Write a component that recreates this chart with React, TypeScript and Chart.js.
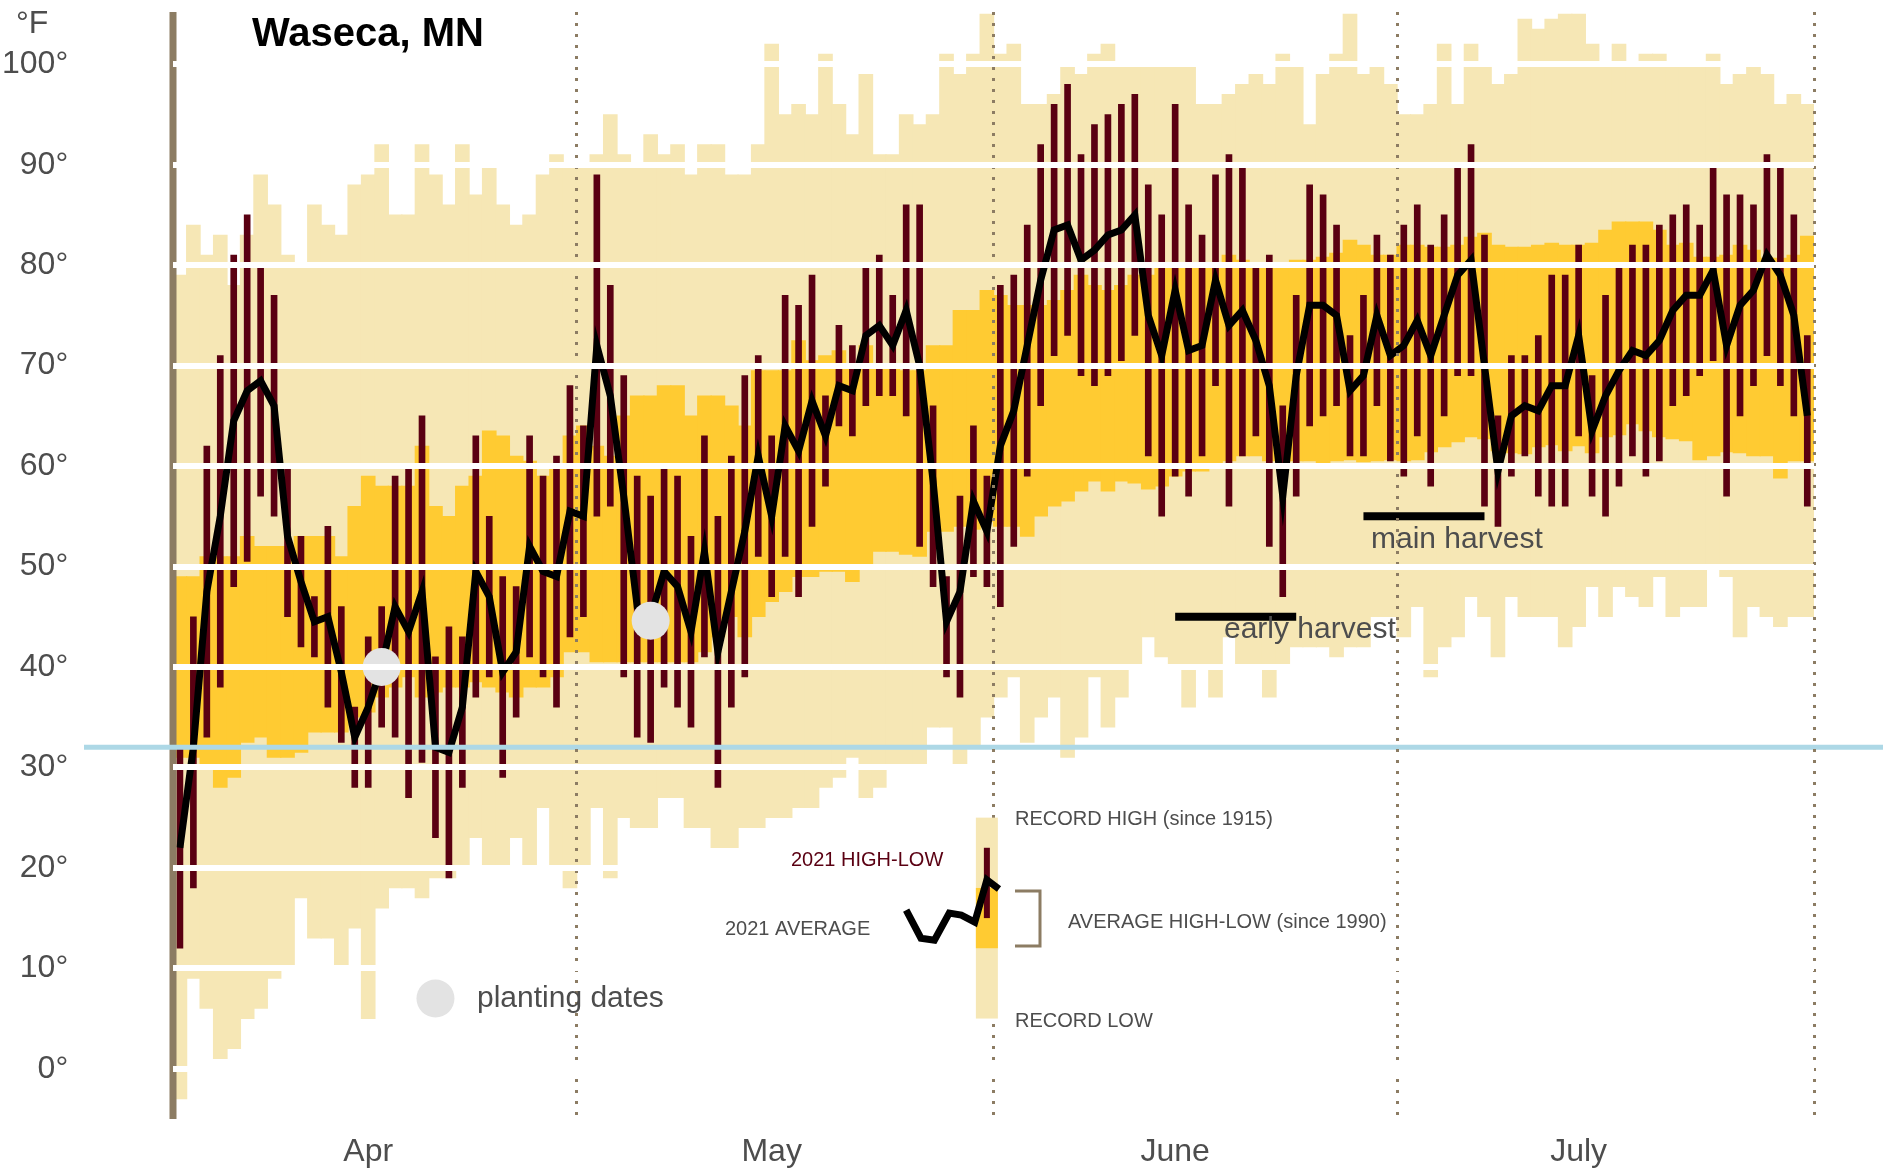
import React, { useEffect, useRef } from 'react';
import { Chart, registerables } from 'chart.js';

Chart.register(...registerables);

const W = 1883;
const H = 1171;
const FONT = '"Liberation Sans", Arial, Helvetica, sans-serif';
const TAN = '#F6E7B5';
const GOLD = '#FFCB32';
const MAROON = '#5A0012';
const BROWN = '#8C7C63';
const BLUE = '#ADD8E6';
const TEXT = '#4d4d4d';
const DOT = '#E3E3E3';

// Days counted from April 1 (index 0) to July 31 (index 121)
// 2021 daily average (black line)
const avg2021 = [
  // April
  22, 32, 47.5, 55, 64.5, 67.5, 68.5, 66, 53, 48.5, 44.5, 45, 39.5, 33, 36, 40, 46, 43.5, 47.5, 32,
  31.5, 36, 49.5, 47, 39.5, 41.5, 52, 49.5, 49, 55.5,
  // May
  55, 72, 67, 57, 46, 45, 49.5, 48, 43.5, 51.5, 41.5, 47.5, 53.5, 61, 55, 64, 61.5, 66.5, 63, 68,
  67.5, 73, 74, 72, 75.5, 70, 58.5, 44.5, 47.5, 56.5, 53.5,
  // June
  62, 65.5, 72, 78.5, 83.5, 84, 80.5, 81.5, 83, 83.5, 85, 75, 71, 77.5, 71.5, 72, 78.5, 74, 75.5, 72.5,
  68, 57, 69, 76, 76, 75, 67.5, 69, 75, 71,
  // July
  72, 74.5, 71, 75, 79, 80.5, 70, 59.5, 65, 66, 65.5, 68, 68, 73, 63.5, 67, 69.5, 71.5, 71, 72.5,
  75.5, 77, 77, 79.5, 72, 76, 77.5, 81, 79, 75, 65,
];

// 2021 daily high
const high2021 = [
  32, 45, 62, 71, 81, 85, 80, 77, 60, 53, 47, 54, 46, 36, 43, 46, 59, 60, 65, 41,
  44, 43, 63, 55, 49, 48, 63, 59, 61, 68,
  64, 89, 78, 69, 59, 57, 60, 59, 53, 63, 55, 61, 69, 71, 63, 77, 76, 79, 67, 74,
  72, 80, 81, 77, 86, 86, 66, 49, 57, 64, 59,
  78, 79, 84, 92, 96, 98, 91, 94, 95, 96, 97, 88, 85, 96, 86, 83, 89, 91, 90, 80,
  81, 66, 77, 88, 87, 84, 73, 77, 83, 81,
  84, 86, 82, 85, 90, 92, 83, 65, 71, 71, 73, 79, 79, 82, 69, 77, 80, 82, 82, 84,
  85, 86, 84, 90, 87, 87, 86, 91, 90, 85, 73,
];

// 2021 daily low
const low2021 = [
  12, 18, 33, 38, 48, 50.5, 57, 55, 45, 42, 41, 36, 32.5, 28, 28, 34, 33, 27, 30.5, 23,
  19, 28, 37, 39, 29, 35, 41, 39, 36, 43,
  45, 55, 56, 39, 33, 32.5, 38, 36, 34, 41, 28, 36, 39, 51, 47, 51, 47, 54, 58, 64,
  63, 66, 67, 67, 65, 52, 48, 39, 37, 49, 48,
  46, 52, 59, 66, 71, 73, 69, 68, 69, 70.5, 73, 61, 55, 59, 57, 61, 68, 56, 61, 63,
  52, 47, 57, 64, 65, 66, 61, 61, 66, 60.5,
  59, 63, 58, 65, 69, 69, 56, 54, 59, 61, 57, 56, 56, 63, 57, 55, 58, 61, 59, 60.5,
  66, 67, 69, 70.5, 57, 65, 68, 71, 68, 65, 56,
];

// Record high (since 1915)
const recordHigh = [
  79, 84, 81, 83, 78, 83, 89, 86, 81, 80, 86, 84, 83, 88, 89, 92, 85, 85, 92, 89,
  86, 92, 87, 90, 86, 84, 85, 89, 91, 90,
  90, 91, 95, 91, 90, 93, 91, 92, 89, 92, 92, 89, 89, 92, 102, 95, 96, 95, 101, 96,
  93, 99, 91, 91, 95, 94, 95, 101, 99, 101, 105,
  101, 102, 96, 96, 97, 100, 99, 101, 102, 100, 100, 100, 100, 100, 100, 96, 96, 97, 98, 99,
  98, 101, 100, 94, 99, 101, 105, 99, 100, 98,
  95, 95, 96, 102, 96, 102, 100, 98, 99, 104.5, 103.5, 104.5, 105, 105, 102, 100, 102, 100, 101, 101,
  100, 100, 100, 101, 98, 99, 100, 99, 96, 97, 96,
];

// Record low
const recordLow = [
  -3, 9, 6, 1, 2, 5, 6, 9, 10, 17, 13, 13, 10, 14, 5, 16, 18, 18, 17, 19,
  19, 20, 23, 20, 20, 23, 20, 26, 20, 18,
  20, 26, 19, 25, 24, 24, 27, 27, 24, 24, 22, 22, 24, 24, 25, 25, 26, 26, 28, 29,
  31, 27, 28, 30, 30, 30, 34, 34, 30, 32, 35,
  37, 39, 32.5, 35, 37, 31, 33, 39, 34, 37, 40, 43, 41, 40, 36, 40, 37, 43, 40, 40,
  37, 40, 42, 42, 42, 41, 42, 42, 45, 45,
  43, 46, 39, 42, 43, 47, 45, 41, 47, 45, 45, 45, 42, 44, 48, 45, 48, 47, 46, 49,
  45, 46, 46, 50, 49, 43, 46, 45, 44, 45, 45,
];

// Average high (since 1990)
const avgHigh = [
  49, 49, 51, 51, 51, 53, 52, 52, 52, 53, 53, 53, 51, 56, 59, 58, 58, 58, 62, 56,
  55, 58, 59, 63.5, 63, 61, 60.5, 59, 60, 63,
  64, 62, 61, 65, 67, 67, 68, 68, 65, 67, 67, 66, 64, 69.5, 69.5, 69.5, 72.5, 70.5, 71, 71.5,
  70, 72, 70, 70, 69.5, 69.5, 72, 72, 75.5, 75.5, 77.5,
  77, 76, 76, 76, 76.5, 77.5, 79, 78, 77.5, 78, 79, 79, 80, 80, 80, 80, 80, 81, 80.5, 80,
  80, 80, 80.5, 80.5, 80.8, 81.2, 82.5, 82, 81, 81,
  82, 82, 81.8, 81.8, 82, 82.8, 83.2, 82, 81.8, 81.8, 82, 82.2, 82, 82, 82.2, 83.5, 84.3, 84.3, 84.3, 83.5,
  82, 82.2, 80.8, 80.8, 81, 82, 81.5, 80.7, 80.7, 81, 82.9,
];

// Average low (since 1990)
const avgLow = [
  31, 31, 30, 28, 29, 32.5, 33, 31, 31, 31.5, 33.5, 33.5, 33.5, 35, 35.5, 37, 38, 39, 37, 37.5,
  38, 38, 38.5, 38, 37.5, 37, 38, 38, 39, 41.5,
  41.5, 40.5, 40.5, 40.5, 40.5, 40.5, 40.5, 40.5, 40.5, 41.5, 43, 45, 43, 45, 46.5, 47.5, 49, 49, 49.5, 49.5,
  48.5, 50, 51.5, 51.5, 51.2, 51, 53.5, 53.5, 54, 53.7, 54.5,
  54, 54, 53, 55, 56, 56.5, 57.5, 58.5, 57.5, 58.5, 58.3, 57.7, 58, 59, 59.5, 59.5, 60, 60.5, 61, 61,
  60.5, 60.3, 60.5, 60.5, 60.3, 60.5, 60.6, 60.4, 60.5, 60.6,
  60.5, 60.6, 61.4, 61.9, 62.4, 62.9, 62.7, 61.5, 61.3, 61.2, 61.9, 62.1, 61.5, 62, 61.3, 62.9, 63.1, 64.2, 63.5, 62.9,
  62.7, 62.5, 60.6, 61, 61.4, 61.3, 61, 61, 58.8, 60.5, 60.5,
];

// Axis / annotation values
const yTickValues = [0, 10, 20, 30, 40, 50, 60, 70, 80, 90, 100];
const monthTickDays = [14.5, 44.5, 74.5, 104.5];
const monthLabels = ['Apr', 'May', 'June', 'July'];
const monthBoundaryDays = [30, 61, 91, 122];
const seasonStartDay = 0;
const freezingTemp = 32;

const plantingDays = [15, 35];
const plantingTemps = [40, 44.6];

const earlyHarvestDays = [74.5, 83.5];
const earlyHarvestTemp = 45;
const mainHarvestDays = [88.5, 97.5];
const mainHarvestTemp = 55;

// Legend key samples
const legendBarDay = 60.5;
const legendRecordRange = [5, 25];
const legendAverageRange = [12, 18];
const legend2021Range = [15, 22];
const legendLineDays = [54.5, 55.6, 56.6, 57.7, 58.6, 59.6, 60.5, 61.4];
const legendLineTemps = [15.8, 13, 12.8, 15.5, 15.3, 14.6, 18.8, 17.9];
const legendPlantingDay = 19.5;
const legendPlantingTemp = 7;

const annotationPlugin = {
  id: 'wasecaAnnotations',
  afterDatasetsDraw(chart: any) {
    const { ctx, chartArea } = chart;
    const x = chart.scales.x;
    const y = chart.scales.y;
    ctx.save();

    // solid season-start axis line (cut later by white grid lines)
    const x0 = x.getPixelForValue(seasonStartDay);
    ctx.fillStyle = BROWN;
    ctx.fillRect(x0 - 3.7, chartArea.top, 7, chartArea.bottom - chartArea.top);

    // freezing line
    const fy = y.getPixelForValue(freezingTemp);
    ctx.strokeStyle = BLUE;
    ctx.lineWidth = 5;
    ctx.beginPath();
    ctx.moveTo(84, fy);
    ctx.lineTo(chart.width, fy);
    ctx.stroke();

    // harvest labels (under the dotted month lines)
    ctx.textBaseline = 'middle';
    ctx.textAlign = 'left';
    ctx.fillStyle = TEXT;
    ctx.font = `30px ${FONT}`;
    ctx.fillText('early harvest', 1224, 630);
    ctx.fillText('main harvest', 1371, 540);
    ctx.restore();
  },
  afterDraw(chart: any) {
    const { ctx } = chart;
    const x = chart.scales.x;
    const y = chart.scales.y;
    ctx.save();

    // legend key (drawn above the grid lines)
    const lx = x.getPixelForValue(legendBarDay);
    const bar = (range: number[], width: number, color: string) => {
      const top = y.getPixelForValue(range[1]);
      const bottom = y.getPixelForValue(range[0]);
      ctx.fillStyle = color;
      ctx.fillRect(lx - width / 2, top, width, bottom - top);
    };
    bar(legendRecordRange, 22, TAN);
    bar(legendAverageRange, 22, GOLD);
    bar(legend2021Range, 6, MAROON);
    ctx.strokeStyle = '#000';
    ctx.lineWidth = 7;
    ctx.beginPath();
    legendLineDays.forEach((d, i) => {
      const px = x.getPixelForValue(d);
      const py = y.getPixelForValue(legendLineTemps[i]);
      if (i === 0) ctx.moveTo(px, py);
      else ctx.lineTo(px, py);
    });
    ctx.stroke();

    // bracket
    ctx.strokeStyle = BROWN;
    ctx.lineWidth = 3;
    ctx.beginPath();
    ctx.moveTo(1015, 891);
    ctx.lineTo(1040, 891);
    ctx.lineTo(1040, 946);
    ctx.lineTo(1015, 946);
    ctx.stroke();

    ctx.textBaseline = 'middle';
    ctx.textAlign = 'left';
    ctx.fillStyle = TEXT;
    ctx.font = `30px ${FONT}`;
    ctx.fillText('planting dates', 477, 999);

    ctx.font = `20px ${FONT}`;
    ctx.fillText('RECORD HIGH (since 1915)', 1015, 819);
    ctx.fillText('2021 AVERAGE', 725, 929);
    ctx.fillText('AVERAGE HIGH-LOW (since 1990)', 1068, 922);
    ctx.fillText('RECORD LOW', 1015, 1021);
    ctx.fillStyle = MAROON;
    ctx.fillText('2021 HIGH-LOW', 791, 860);

    // title & unit
    ctx.fillStyle = '#000000';
    ctx.font = `bold 40px ${FONT}`;
    ctx.fillText('Waseca, MN', 252, 35);
    ctx.fillStyle = TEXT;
    ctx.font = `32px ${FONT}`;
    ctx.fillText('°F', 16, 24);
    ctx.restore();
  },
};

export default function App() {
  const canvasRef = useRef<HTMLCanvasElement | null>(null);

  useEffect(() => {
    document.body.style.margin = '0';
    const canvas = canvasRef.current;
    if (!canvas) return;

    const toBars = (lo: number[], hi: number[]) => lo.map((v, i) => ({ x: i + 0.5, y: [v, hi[i]] }));
    const toPoints = (vals: number[]) => vals.map((v, i) => ({ x: i + 0.5, y: v }));

    const zeroPadding = (s: any) => {
      s.paddingTop = 0;
      s.paddingBottom = 0;
      s.paddingLeft = 0;
      s.paddingRight = 0;
      if (s._margins) {
        s._margins.top = 0;
        s._margins.bottom = 0;
        s._margins.left = 0;
        s._margins.right = 0;
      }
    };

    const chart = new Chart(canvas, {
      type: 'bar',
      data: {
        datasets: [
          {
            type: 'line',
            label: 'planting dates',
            data: plantingDays.map((d, i) => ({ x: d + 0.5, y: plantingTemps[i] })),
            showLine: false,
            pointRadius: 19,
            pointBackgroundColor: DOT,
            pointBorderWidth: 0,
            pointBorderColor: DOT,
            order: 0,
          },
          {
            type: 'line',
            label: 'planting legend',
            data: [{ x: legendPlantingDay, y: legendPlantingTemp }],
            showLine: false,
            pointRadius: 19,
            pointBackgroundColor: DOT,
            pointBorderWidth: 0,
            pointBorderColor: DOT,
            order: 0,
          },
          {
            type: 'line',
            label: 'early harvest',
            data: earlyHarvestDays.map((d) => ({ x: d, y: earlyHarvestTemp })),
            borderColor: '#000',
            borderWidth: 8,
            pointRadius: 0,
            borderCapStyle: 'butt',
            order: 1,
          },
          {
            type: 'line',
            label: 'main harvest',
            data: mainHarvestDays.map((d) => ({ x: d, y: mainHarvestTemp })),
            borderColor: '#000',
            borderWidth: 8,
            pointRadius: 0,
            borderCapStyle: 'butt',
            order: 1,
          },
          {
            type: 'line',
            label: '2021 average',
            data: toPoints(avg2021),
            borderColor: '#000',
            borderWidth: 7,
            pointRadius: 0,
            tension: 0,
            order: 2,
          },
          {
            type: 'bar',
            label: '2021 high-low',
            data: toBars(low2021, high2021),
            backgroundColor: MAROON,
            barThickness: 6,
            grouped: false,
            order: 3,
          },
          {
            type: 'bar',
            label: 'average high-low',
            data: toBars(avgLow, avgHigh),
            backgroundColor: GOLD,
            barThickness: 14,
            grouped: false,
            order: 4,
          },
          {
            type: 'bar',
            label: 'record high-low',
            data: toBars(recordLow, recordHigh),
            backgroundColor: TAN,
            barThickness: 14,
            grouped: false,
            order: 5,
          },
        ] as any,
      },
      options: {
        responsive: false,
        animation: false,
        events: [],
        layout: { autoPadding: false, padding: { left: 0, right: 69, top: 12, bottom: 0 } },
        plugins: {
          legend: { display: false },
          tooltip: { enabled: false },
          title: { display: false },
        },
        scales: {
          x: {
            type: 'linear',
            min: 0,
            max: 122,
            offset: false,
            afterFit: (s: any) => {
              s.height = 52;
              zeroPadding(s);
            },
            afterBuildTicks: (s: any) => {
              const vals = [...monthTickDays, ...monthBoundaryDays].sort((a, b) => a - b);
              s.ticks = vals.map((v) => ({ value: v }));
            },
            ticks: {
              autoSkip: false,
              maxRotation: 0,
              minRotation: 0,
              padding: 14,
              color: TEXT,
              font: { family: FONT, size: 32 },
              callback: (value: any) => {
                const i = monthTickDays.indexOf(Number(value));
                return i >= 0 ? monthLabels[i] : '';
              },
            },
            grid: {
              display: true,
              drawTicks: false,
              offset: false,
              lineWidth: 3,
              color: (ctx: any) =>
                ctx.tick && monthBoundaryDays.includes(ctx.tick.value) ? BROWN : 'rgba(0,0,0,0)',
              z: 1,
            },
            border: { display: false, dash: [3, 8] },
          },
          y: {
            type: 'linear',
            min: -5,
            max: 105.2,
            afterFit: (s: any) => {
              s.width = 173.2;
              zeroPadding(s);
            },
            afterBuildTicks: (s: any) => {
              s.ticks = yTickValues.map((v) => ({ value: v }));
            },
            ticks: {
              padding: 105,
              color: TEXT,
              font: { family: FONT, size: 32 },
              callback: (value: any) => `${value}°`,
            },
            grid: {
              color: '#ffffff',
              lineWidth: 6,
              drawTicks: false,
              z: 2,
            },
            border: { display: false },
          },
        },
      } as any,
      plugins: [annotationPlugin],
    });

    return () => chart.destroy();
  }, []);

  return (
    <div style={{ position: 'absolute', left: 0, top: 0, width: W, height: H, background: '#fff' }}>
      <canvas ref={canvasRef} width={W} height={H} style={{ display: 'block', width: W, height: H }} />
    </div>
  );
}
